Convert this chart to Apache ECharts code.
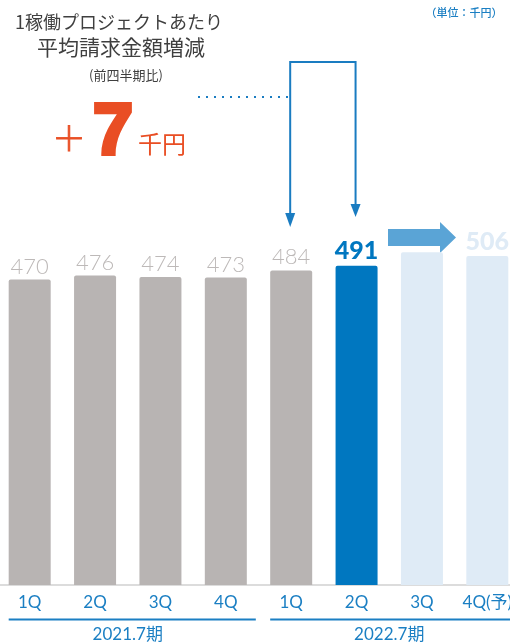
<!DOCTYPE html>
<html><head><meta charset="utf-8">
<script src="https://cdn.jsdelivr.net/npm/echarts@6/dist/echarts.min.js"></script>
<style>html,body{margin:0;padding:0;background:#fff;overflow:hidden}#c{position:absolute;left:-3px;top:0;width:526px;height:643px}</style>
</head><body><div id="c"></div>
<script>
var categories = ['1Q','2Q','3Q','4Q','1Q','2Q','3Q','4Q(予)'];
var values = [470, 476, 474, 473, 484, 491, 512, 506];
var valueLabels = ['470','476','474','473','484','491','','506'];
var periods = ['2021.7期','2022.7期'];
var periodSpans = [[0,3],[4,7]];

var GRAY = '#b8b4b3', BLUE = '#0077c0', LIGHT = '#dfebf6';
var colors = [GRAY,GRAY,GRAY,GRAY,GRAY,BLUE,LIGHT,LIGHT];
var chart = echarts.init(document.getElementById('c'));
var FONT = 'Lato, "Noto Sans CJK JP", sans-serif';
var OX = 3; // container offset

var data = values.map(function(v,i){
  var lbl = {show: true, position: 'top', distance: 2, formatter: valueLabels[i],
    color: '#bdb9b8', fontSize: 22, fontFamily: FONT, fontWeight: 300};
  if (i === 5) { lbl.color = BLUE; lbl.fontWeight = 900; lbl.fontSize = 25; }
  if (i === 7) { lbl.color = LIGHT; lbl.fontWeight = 900; lbl.fontSize = 25; }
  return {value: v, itemStyle: {color: colors[i], borderRadius: [2,2,0,0]}, label: lbl};
});

chart.setOption({
  animation: false,
  grid: {left: 0, width: 523, top: 65, bottom: 58},
  xAxis: {type: 'category', data: categories,
    axisLine: {lineStyle: {color: '#dcdcdc', width: 2}},
    axisTick: {show: false},
    axisLabel: {color: '#1b7fc3', fontSize: 17, fontFamily: FONT, margin: 9, interval: 0}},
  yAxis: {type: 'value', min: 0, max: 800, show: false, splitLine: {show: false}},
  series: [{type: 'bar', data: data, barWidth: 42}]
});

function px(i){ return chart.convertToPixel({xAxisIndex:0}, i); }
var g = [];
// period underline and labels
periodSpans.forEach(function(s, k){
  var x0 = px(s[0]) - 21;
  var x1 = k === 0 ? px(s[1]) + 30 : 530;
  g.push({type:'line', shape:{x1:x0, y1:619.5, x2:x1, y2:619.5}, style:{stroke:'#1b7fc3', lineWidth:2}});
  var xc = (px(s[0]) + px(s[1]))/2;
  g.push({type:'text', x: xc, y: 635, style:{text: periods[k], fill:'#1b7fc3', font:'17px ' + FONT, textAlign:'center', textVerticalAlign:'middle'}});
});

// Title
var TF = '"Noto Sans CJK JP", sans-serif';
g.push({type:'text', x:119+OX, y:22, style:{text:'1稼働プロジェクトあたり', fill:'#3f3f3f', font:'18px ' + TF, textAlign:'center', textVerticalAlign:'middle'}});
g.push({type:'text', x:121+OX, y:47, style:{text:'平均請求金額増減', fill:'#3f3f3f', font:'21px ' + TF, textAlign:'center', textVerticalAlign:'middle'}});
g.push({type:'text', x:126+OX, y:75, style:{text:'(前四半期比)', fill:'#3f3f3f', font:'13px ' + TF, textAlign:'center', textVerticalAlign:'middle'}});
// +7千円
var RED = '#e94e24';
g.push({type:'text', x:69+OX, y:138, style:{text:'＋', fill:RED, stroke:RED, lineWidth:0.8, font:'300 34px ' + TF, textAlign:'center', textVerticalAlign:'middle'}});
g.push({type:'text', x:113+OX, y:134, style:{text:'7', fill:RED, stroke:RED, lineWidth:4, font:'bold 72px "Liberation Sans", Arial, sans-serif', textAlign:'center', textVerticalAlign:'middle'}});
g.push({type:'text', x:162+OX, y:144, style:{text:'千円', fill:RED, font:'24px ' + TF, textAlign:'center', textVerticalAlign:'middle'}});
// unit
g.push({type:'text', x:464+OX, y:13, style:{text:'（単位：千円）', fill:'#1b7fc3', font:'500 11px ' + TF, textAlign:'center', textVerticalAlign:'middle'}});

// connector
var xa = px(4) - 1;
var xb = px(5) - 1;
var LB = '#1a7cc1';
g.push({type:'line', shape:{x1:198+OX, y1:97, x2:xa, y2:97}, style:{stroke:LB, lineWidth:2, lineDash:[2,6]}});
g.push({type:'polyline', shape:{points:[[xa,215],[xa,62],[xb,62],[xb,206]]}, style:{stroke:LB, lineWidth:2, fill:null}});
g.push({type:'polygon', shape:{points:[[xa-5,213],[xa+5,213],[xa,227]]}, style:{fill:LB}});
g.push({type:'polygon', shape:{points:[[xb-5,204],[xb+5,204],[xb,217]]}, style:{fill:LB}});
// big arrow
var ax = OX;
g.push({type:'polygon', shape:{points:[[388+ax,229],[440+ax,229],[440+ax,222],[456+ax,237.5],[440+ax,253],[440+ax,246],[388+ax,246]]}, style:{fill:'#5aa4d6'}});

chart.setOption({graphic: g});
</script></body></html>
